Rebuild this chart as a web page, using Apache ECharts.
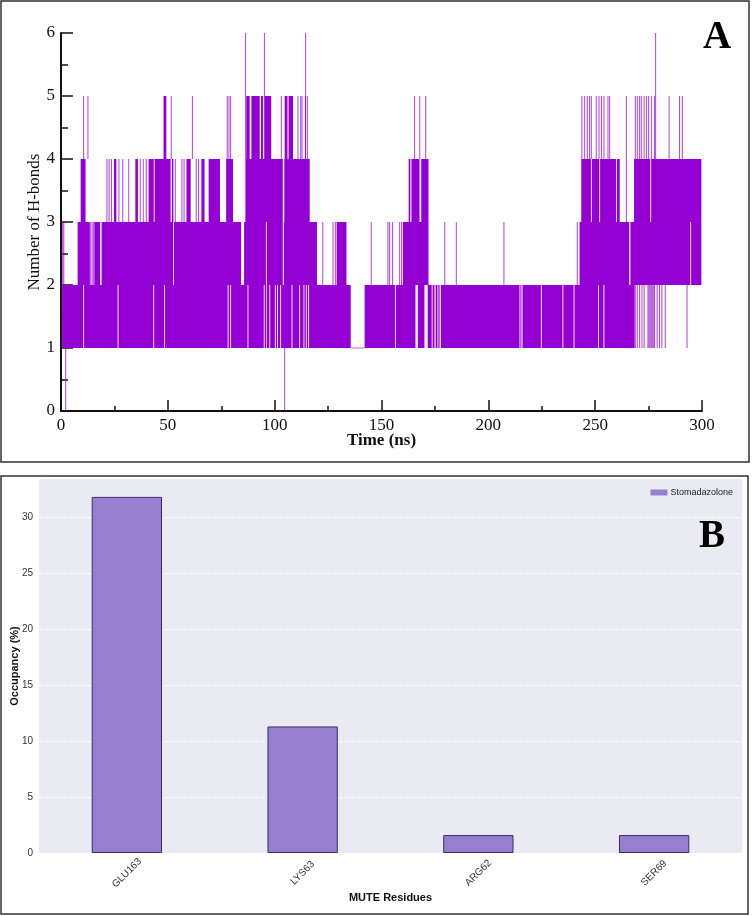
<!DOCTYPE html>
<html>
<head>
<meta charset="utf-8">
<script src="https://cdn.jsdelivr.net/npm/echarts@6/dist/echarts.min.js"></script>
<style>
html,body{margin:0;padding:0;background:#fff;}
#main{width:752px;height:916px;}
</style>
</head>
<body>
<div id="main"></div>
<script>
// ---------- Panel A: number of H-bonds vs time ----------
const timeTicks = [0, 50, 100, 150, 200, 250, 300];
const hbondTicks = [0, 1, 2, 3, 4, 5, 6];

// blocks where the count fluctuates continuously between two levels: [start ns, end ns]
const hb12Blocks = [[0.5,10.4],[10.8,26.5],[26.9,43.2],[43.6,48.3],[48.7,78.0],[78.4,79.2],[79.6,87.3],[87.7,94.9],[95.3,96.0],[96.3,97.5],[97.9,100.1],[100.5,101.1],[101.5,102.6],[103.0,107.9],[108.3,111.5],[111.9,113.5],[113.9,114.6],[115.0,115.7],[116.1,135.6],[142.1,156.3],[156.7,165.9],[167.0,170.1],[171.6,173.5],[173.9,174.8],[175.3,176.2],[176.6,177.2],[177.8,214.6],[215.0,215.5],[216.0,224.6],[225.0,234.7],[235.1,239.9],[240.3,251.4],[251.8,253.9],[254.3,268.5]];
const hb12Lines = [268.8,269.7,270.8,271.9,272.9,274.7,275.2,275.7,276.2,276.7,277.2,277.8,279.0,280.1,281.2,282.8,293.0];

const hb23Blocks = [[7.8,13.5],[15.6,18.3],[19.0,52.5],[52.9,84.3],[85.7,95.9],[96.3,103.8],[104.3,119.8],[129.0,133.6],[160.0,172.0],[242.7,265.9],[266.5,294.5],[294.9,299.7]];
const hb23Lines = [0.8,1.3,13.9,14.6,15.3,122.5,127.3,128.4,145.2,153.0,153.8,155.2,158.5,159.4,179.6,185.0,207.3,241.6];

const hb34Blocks = [[9.2,11.5],[24.8,25.9],[34.8,36.0],[41.0,43.4],[43.8,51.3],[51.9,52.6],[58.7,60.7],[65.7,67.2],[69.1,74.4],[77.3,80.5],[86.3,103.8],[104.5,116.4],[162.7,163.5],[164.0,167.8],[168.6,172.0],[243.5,248.0],[248.4,251.9],[252.3,259.8],[260.2,261.5],[268.2,275.8],[276.2,299.7]];
const hb34Lines = [21.5,22.5,23.6,27.1,28.9,31.7,37.1,38.5,39.9,53.5,56.6,57.6,63.3,64.4,264.6];

const hb45Blocks = [[48.0,49.3],[86.7,88.3],[89.1,93.0],[93.6,94.5],[95.3,98.4],[104.7,106.0],[106.5,108.6]];
const hb45Lines = [10.6,12.6,51.6,61.5,77.8,78.6,79.4,103.1,110.9,112.2,112.8,114.4,115.3,165.5,167.9,170.7,243.8,245.1,246.3,247.4,248.2,250.5,251.8,252.9,254.1,256.0,256.8,264.6,268.8,269.7,270.8,271.6,272.9,274.0,275.0,276.3,277.8,284.6,289.5,290.8];

const hb56Lines = [86.4,95.2,114.5,278.3];
const hb01Lines = [2.2,104.7];
// stretch where the count stays at exactly one bond: [start, end, value]
const hbFlat = [[135.6,142.1,1]];

// ---------- Panel B: occupancy ----------
const residues = ['GLU163','LYS63','ARG62','SER69'];
const occupancy = [31.8, 11.3, 1.6, 1.6];
const occTicks = [0, 5, 10, 15, 20, 25, 30];
const ligandName = 'Stomadazolone';

// build segment table for custom series: [start, end, low, high]
const hbSegments = [];
function addBlocks(blocks, lo, hi){ blocks.forEach(b => hbSegments.push([b[0], b[1], lo, hi])); }
function addLines(lines, lo, hi){ lines.forEach(t => hbSegments.push([t, t, lo, hi])); }
addBlocks(hb12Blocks,1,2); addLines(hb12Lines,1,2);
addBlocks(hb23Blocks,2,3); addLines(hb23Lines,2,3);
addBlocks(hb34Blocks,3,4); addLines(hb34Lines,3,4);
addBlocks(hb45Blocks,4,5); addLines(hb45Lines,4,5);
addLines(hb56Lines,4,6); addLines(hb01Lines,0,1);
hbFlat.forEach(f => hbSegments.push([f[0], f[1], f[2], f[2]]));

const HB_COLOR = '#9400D3';
function renderHB(params, api){
  const s = api.value(0), e = api.value(1), lo = api.value(2), hi = api.value(3);
  const p1 = api.coord([s, hi]);
  const p2 = api.coord([e, lo]);
  const w = p2[0] - p1[0];
  const h = p2[1] - p1[1];
  if (w < 1) {
    return {type:'rect', shape:{x:p1[0]-0.5, y:p1[1], width:1, height:h},
            style:{fill:HB_COLOR, opacity:0.75}};
  }
  return {type:'rect', shape:{x:p1[0], y:p1[1]-(h<1?0.5:0), width:w, height:Math.max(h,1)},
          style:{fill:HB_COLOR, opacity:h<1?0.6:1}};
}

const serif = 'Liberation Serif';
const sans = 'Liberation Sans';

const chart = echarts.init(document.getElementById('main'), null, {renderer:'canvas'});
chart.setOption({
  backgroundColor:'#fff',
  animation:false,
  graphic:[
    {type:'rect', shape:{x:1, y:1, width:748, height:461}, style:{fill:'none', stroke:'#333', lineWidth:1.5}, z:100},
    {type:'rect', shape:{x:1, y:476, width:747, height:438}, style:{fill:'none', stroke:'#333', lineWidth:1.5}, z:100},
    {type:'text', x:703, y:18, style:{text:'A', font:'bold 39px "Liberation Serif"', fill:'#000'}, z:100},
    {type:'text', x:699, y:517, style:{text:'B', font:'bold 39px "Liberation Serif"', fill:'#000'}, z:100}
  ],
  legend:[{
    show:true, data:[ligandName], right:19, top:488, itemWidth:17, itemHeight:6, itemGap:8, padding:0,
    icon:'rect', itemStyle:{borderWidth:0},
    textStyle:{fontFamily:sans, fontSize:9, color:'#222', padding:[0,0,0,-2]}
  }],
  grid:[
    {left:61, right:50, top:33, bottom:505, outerBoundsMode:'none', containLabel:false},
    {left:39, right:10, top:479, bottom:63, show:true, backgroundColor:'#EAEAF2', borderWidth:0, outerBoundsMode:'none', containLabel:false}
  ],
  xAxis:[
    {gridIndex:0, type:'value', min:timeTicks[0], max:timeTicks[timeTicks.length-1], interval:50,
     name:'Time (ns)', nameLocation:'middle', nameGap:21, nameMoveOverlap:false,
     nameTextStyle:{fontFamily:serif, fontSize:17, fontWeight:'bold', color:'#111'},
     axisLine:{show:true, lineStyle:{color:'#111', width:2}},
     axisTick:{show:true, inside:true, length:11, lineStyle:{color:'#111', width:1.5}},
     minorTick:{show:true, splitNumber:2, length:5, lineStyle:{color:'#111', width:1.5}},
     axisLabel:{fontFamily:serif, fontSize:17, color:'#111', margin:6},
     splitLine:{show:false}},
    {gridIndex:1, type:'category', data:residues,
     name:'MUTE Residues', nameLocation:'middle', nameGap:39, nameMoveOverlap:false,
     nameTextStyle:{fontFamily:sans, fontSize:11, fontWeight:'bold', color:'#111'},
     axisLine:{show:false}, axisTick:{show:false},
     axisLabel:{fontFamily:sans, fontSize:10, color:'#333', rotate:45, align:'center', verticalAlign:'middle', margin:20},
     splitLine:{show:false}}
  ],
  yAxis:[
    {gridIndex:0, type:'value', min:hbondTicks[0], max:hbondTicks[hbondTicks.length-1], interval:1,
     name:'Number of H-bonds', nameLocation:'middle', nameGap:18, nameMoveOverlap:false,
     nameTextStyle:{fontFamily:serif, fontSize:17, color:'#111'},
     axisLine:{show:true, lineStyle:{color:'#111', width:2}},
     axisTick:{show:true, inside:true, length:12, lineStyle:{color:'#111', width:1.5}},
     minorTick:{show:true, splitNumber:2, length:7, lineStyle:{color:'#111', width:1.5}},
     axisLabel:{fontFamily:serif, fontSize:17, color:'#111', margin:6},
     splitLine:{show:false}},
    {gridIndex:1, type:'value', min:occTicks[0], max:33.4, interval:5,
     name:'Occupancy (%)', nameLocation:'middle', nameGap:19, nameMoveOverlap:false,
     nameTextStyle:{fontFamily:sans, fontSize:11, fontWeight:'bold', color:'#111'},
     axisLine:{show:false}, axisTick:{show:false},
     axisLabel:{fontFamily:sans, fontSize:10, color:'#333', margin:6, showMaxLabel:false},
     splitLine:{show:true, showMaxLine:false, showMinLine:false, lineStyle:{color:'#fff', width:1, type:'dashed'}}}
  ],
  series:[
    {type:'custom', xAxisIndex:0, yAxisIndex:0, renderItem:renderHB, data:hbSegments,
     encode:{x:[0,1], y:[2,3]}, silent:true, clip:true, z:2},
    {type:'bar', name:ligandName, xAxisIndex:1, yAxisIndex:1, data:occupancy, barWidth:'40%',
     itemStyle:{color:'#987ECF', borderColor:'#3A2A72', borderWidth:1}}
  ]
});
</script>
</body>
</html>
